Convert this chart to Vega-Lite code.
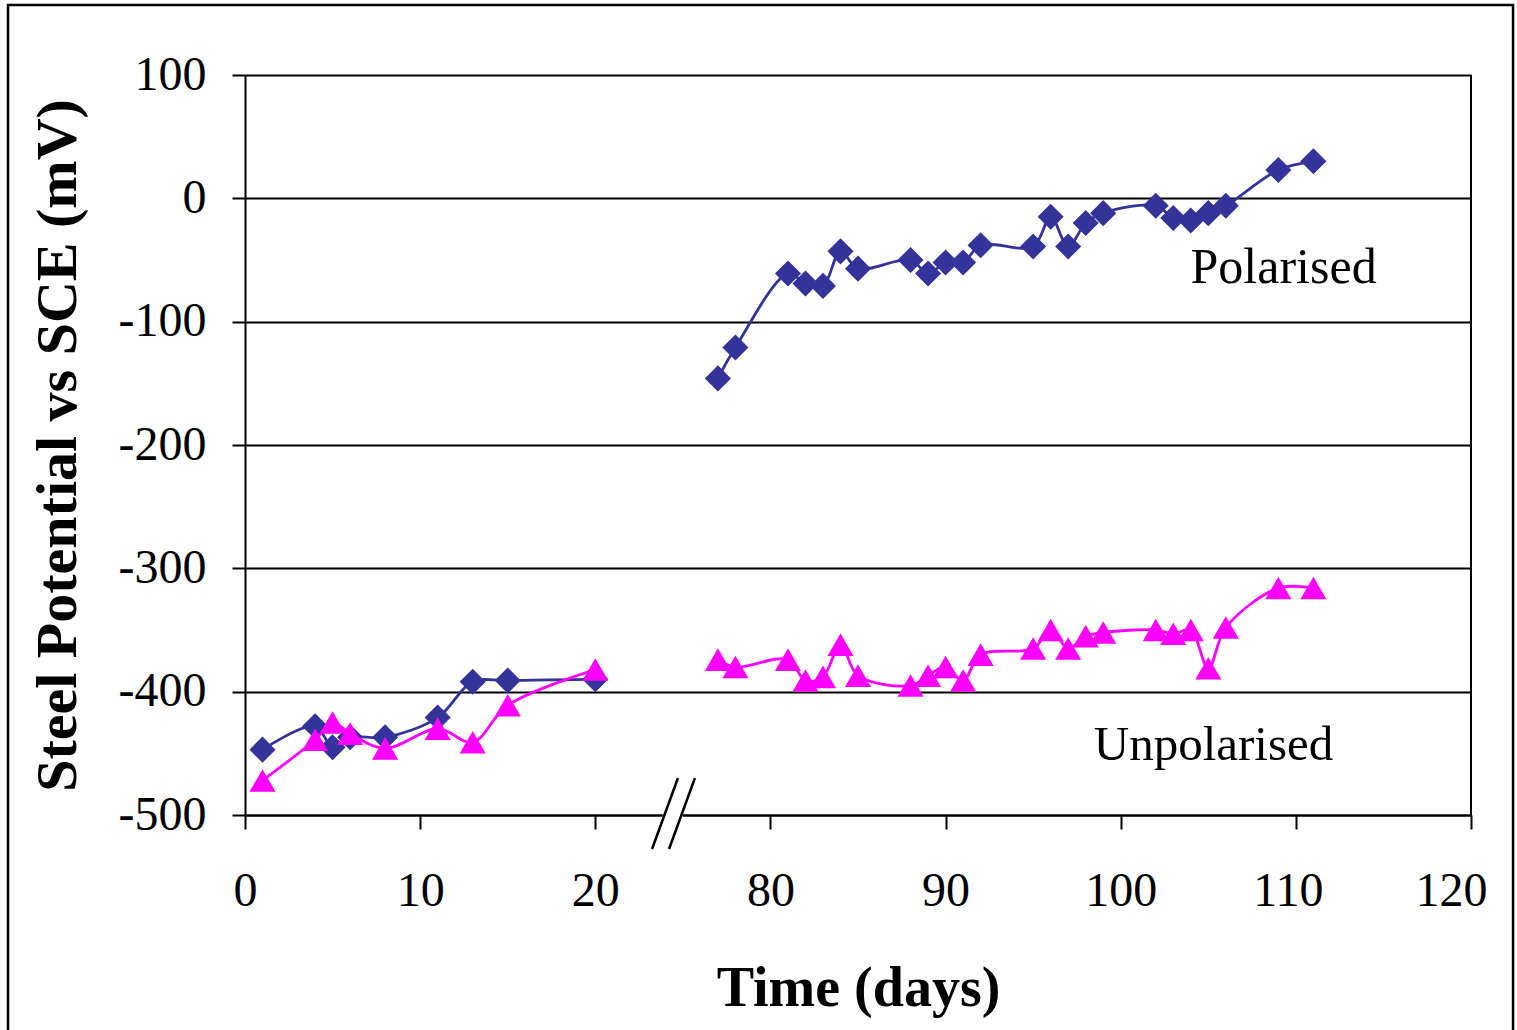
{
  "$schema": "https://vega.github.io/schema/vega-lite/v6.json",
  "width": 1226,
  "height": 740,
  "autosize": {"type": "none"},
  "padding": {"left": 245, "top": 75, "right": 46, "bottom": 215},
  "background": "white",
  "config": {"view": {"stroke": null}, "font": "Liberation Serif"},
  "datasets": {
    "potential": [
      {"series": "Polarised", "day": 1, "mV": -447},
      {"series": "Polarised", "day": 4, "mV": -428},
      {"series": "Polarised", "day": 5, "mV": -445},
      {"series": "Polarised", "day": 6, "mV": -437},
      {"series": "Polarised", "day": 8, "mV": -437},
      {"series": "Polarised", "day": 11, "mV": -421},
      {"series": "Polarised", "day": 13, "mV": -392},
      {"series": "Polarised", "day": 15, "mV": -391},
      {"series": "Polarised", "day": 20, "mV": -390},
      {"series": "Polarised", "day": 77, "mV": -146},
      {"series": "Polarised", "day": 78, "mV": -121},
      {"series": "Polarised", "day": 81, "mV": -61},
      {"series": "Polarised", "day": 82, "mV": -69},
      {"series": "Polarised", "day": 83, "mV": -71},
      {"series": "Polarised", "day": 84, "mV": -43},
      {"series": "Polarised", "day": 85, "mV": -57},
      {"series": "Polarised", "day": 88, "mV": -50},
      {"series": "Polarised", "day": 89, "mV": -61},
      {"series": "Polarised", "day": 90, "mV": -52},
      {"series": "Polarised", "day": 91, "mV": -52},
      {"series": "Polarised", "day": 92, "mV": -38},
      {"series": "Polarised", "day": 95, "mV": -39},
      {"series": "Polarised", "day": 96, "mV": -15},
      {"series": "Polarised", "day": 97, "mV": -39},
      {"series": "Polarised", "day": 98, "mV": -20},
      {"series": "Polarised", "day": 99, "mV": -12},
      {"series": "Polarised", "day": 102, "mV": -6},
      {"series": "Polarised", "day": 103, "mV": -16},
      {"series": "Polarised", "day": 104, "mV": -18},
      {"series": "Polarised", "day": 105, "mV": -12},
      {"series": "Polarised", "day": 106, "mV": -6},
      {"series": "Polarised", "day": 109, "mV": 23},
      {"series": "Polarised", "day": 111, "mV": 30},
      {"series": "Unpolarised", "day": 1, "mV": -472},
      {"series": "Unpolarised", "day": 4, "mV": -439},
      {"series": "Unpolarised", "day": 5, "mV": -425},
      {"series": "Unpolarised", "day": 6, "mV": -434},
      {"series": "Unpolarised", "day": 8, "mV": -446},
      {"series": "Unpolarised", "day": 11, "mV": -430},
      {"series": "Unpolarised", "day": 13, "mV": -441},
      {"series": "Unpolarised", "day": 15, "mV": -411},
      {"series": "Unpolarised", "day": 20, "mV": -382},
      {"series": "Unpolarised", "day": 77, "mV": -374},
      {"series": "Unpolarised", "day": 78, "mV": -380},
      {"series": "Unpolarised", "day": 81, "mV": -374},
      {"series": "Unpolarised", "day": 82, "mV": -391},
      {"series": "Unpolarised", "day": 83, "mV": -388},
      {"series": "Unpolarised", "day": 84, "mV": -362},
      {"series": "Unpolarised", "day": 85, "mV": -387},
      {"series": "Unpolarised", "day": 88, "mV": -395},
      {"series": "Unpolarised", "day": 89, "mV": -387},
      {"series": "Unpolarised", "day": 90, "mV": -380},
      {"series": "Unpolarised", "day": 91, "mV": -391},
      {"series": "Unpolarised", "day": 92, "mV": -370},
      {"series": "Unpolarised", "day": 95, "mV": -365},
      {"series": "Unpolarised", "day": 96, "mV": -350},
      {"series": "Unpolarised", "day": 97, "mV": -365},
      {"series": "Unpolarised", "day": 98, "mV": -355},
      {"series": "Unpolarised", "day": 99, "mV": -352},
      {"series": "Unpolarised", "day": 102, "mV": -350},
      {"series": "Unpolarised", "day": 103, "mV": -353},
      {"series": "Unpolarised", "day": 104, "mV": -350},
      {"series": "Unpolarised", "day": 105, "mV": -381},
      {"series": "Unpolarised", "day": 106, "mV": -348},
      {"series": "Unpolarised", "day": 109, "mV": -316},
      {"series": "Unpolarised", "day": 111, "mV": -316}
    ]
  },
  "layer": [
    {
      "data": {"name": "potential"},
      "transform": [
        {"filter": "datum.series === 'Polarised'"},
        {"calculate": "datum.day < 50 ? 'early' : 'late'", "as": "run"}
      ],
      "mark": {"type": "line", "color": "#333399", "strokeWidth": 2.8, "interpolate": "catmull-rom"},
      "encoding": {
        "x": {
          "field": "day", "type": "quantitative",
          "scale": {"type": "linear", "domain": [0, 20, 70, 120], "range": [0, 350.3, 350.3, 1226], "zero": false, "nice": false},
          "axis": {
            "title": "Time (days)", "values": [0, 10, 20, 80, 90, 100, 110, 120],
            "labelExpr": "'' + datum.value", "labelFlush": false, "labelOverlap": false,
            "labelOffset": {"condition": [{"test": "datum.value === 120", "value": -20}, {"test": "datum.value === 110", "value": -8}], "value": 0},
            "grid": false, "domainColor": "black", "domainWidth": 2, "tickColor": "black", "tickWidth": 2, "tickSize": 14,
            "labelFont": "Liberation Serif", "labelFontSize": 48, "labelColor": "black", "labelPadding": 38, "labelBaseline": "top",
            "titleFont": "Liberation Serif", "titleFontSize": 56, "titleFontWeight": "bold", "titleColor": "black",
            "titleBaseline": "alphabetic", "titleY": 190, "titleX": 613, "titleAlign": "center"
          }
        },
        "y": {
          "field": "mV", "type": "quantitative",
          "scale": {"domain": [-500, 100], "zero": false, "nice": false},
          "axis": {
            "title": "Steel Potential vs SCE (mV)", "values": [-500, -400, -300, -200, -100, 0, 100],
            "labelExpr": "'' + datum.value", "labelOverlap": false, "labelFlush": false,
            "grid": true, "gridColor": "black", "gridWidth": 2, "gridOpacity": 1,
            "domainColor": "black", "domainWidth": 2, "tickColor": "black", "tickWidth": 2, "tickSize": 13,
            "labelFont": "Liberation Serif", "labelFontSize": 48, "labelColor": "black", "labelPadding": 26,
            "titleFont": "Liberation Serif", "titleFontSize": 58, "titleFontWeight": "bold", "titleColor": "black",
            "titleAngle": -90, "titleBaseline": "alphabetic", "titleAlign": "center", "titleX": -170, "titleY": 370
          }
        },
        "detail": {"field": "run"}
      }
    },
    {
      "data": {"name": "potential"},
      "transform": [{"filter": "datum.series === 'Polarised'"}],
      "mark": {"type": "point", "shape": "diamond", "filled": true, "color": "#333399", "size": 680, "opacity": 1},
      "encoding": {
        "x": {"field": "day", "type": "quantitative"},
        "y": {"field": "mV", "type": "quantitative"}
      }
    },
    {
      "data": {"name": "potential"},
      "transform": [
        {"filter": "datum.series === 'Unpolarised'"},
        {"calculate": "datum.day < 50 ? 'early' : 'late'", "as": "run"}
      ],
      "mark": {"type": "line", "color": "#FF00FF", "strokeWidth": 2.8, "interpolate": "catmull-rom"},
      "encoding": {
        "x": {"field": "day", "type": "quantitative"},
        "y": {"field": "mV", "type": "quantitative"},
        "detail": {"field": "run"}
      }
    },
    {
      "data": {"name": "potential"},
      "transform": [{"filter": "datum.series === 'Unpolarised'"}],
      "mark": {"type": "point", "shape": "triangle-up", "filled": true, "color": "#FF00FF", "size": 680, "opacity": 1},
      "encoding": {
        "x": {"field": "day", "type": "quantitative"},
        "y": {"field": "mV", "type": "quantitative"}
      }
    },
    {
      "data": {"values": [{}]},
      "mark": {"type": "rule", "color": "black", "strokeWidth": 2},
      "encoding": {"x": {"datum": 120, "type": "quantitative"}, "y": {"datum": -500, "type": "quantitative"}, "y2": {"datum": 100}}
    },
    {
      "data": {"values": [{}]},
      "mark": {"type": "rule", "color": "white", "strokeWidth": 6, "clip": false},
      "encoding": {"x": {"datum": 73.85, "type": "quantitative"}, "x2": {"datum": 75.0}, "y": {"datum": -500, "type": "quantitative"}}
    },
    {
      "data": {"values": [{}]},
      "mark": {"type": "rule", "color": "black", "strokeWidth": 2.5, "clip": false},
      "encoding": {"x": {"datum": 73.24, "type": "quantitative"}, "x2": {"datum": 74.72}, "y": {"datum": -527.6, "type": "quantitative"}, "y2": {"datum": -470}}
    },
    {
      "data": {"values": [{}]},
      "mark": {"type": "rule", "color": "black", "strokeWidth": 2.5, "clip": false},
      "encoding": {"x": {"datum": 74.21, "type": "quantitative"}, "x2": {"datum": 75.69}, "y": {"datum": -527.6, "type": "quantitative"}, "y2": {"datum": -470}}
    },
    {
      "data": {"values": [{}]},
      "mark": {"type": "text", "text": "Polarised", "font": "Liberation Serif", "fontSize": 50, "color": "black", "align": "center", "baseline": "alphabetic"},
      "encoding": {"x": {"datum": 109.3, "type": "quantitative"}, "y": {"datum": -68.6, "type": "quantitative"}}
    },
    {
      "data": {"values": [{}]},
      "mark": {"type": "text", "text": "Unpolarised", "font": "Liberation Serif", "fontSize": 49, "color": "black", "align": "center", "baseline": "alphabetic"},
      "encoding": {"x": {"datum": 105.3, "type": "quantitative"}, "y": {"datum": -455.4, "type": "quantitative"}}
    },
    {
      "data": {"values": [{}]},
      "mark": {"type": "rect", "fill": "transparent", "stroke": "black", "strokeWidth": 2.5, "clip": false},
      "encoding": {"x": {"datum": -13.53, "type": "quantitative"}, "x2": {"datum": 122.4}, "y": {"datum": 156.8, "type": "quantitative"}, "y2": {"datum": -678}}
    }
  ]
}
